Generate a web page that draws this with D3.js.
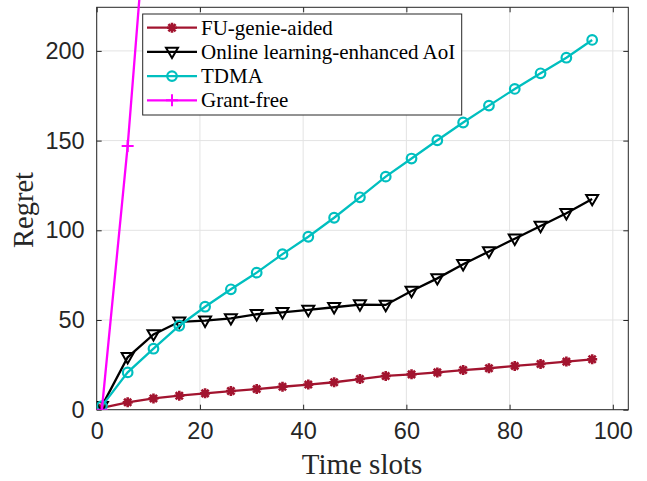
<!DOCTYPE html>
<html>
<head>
<meta charset="utf-8">
<script src="https://cdn.jsdelivr.net/npm/d3@7"></script>
<style>
  body { margin: 0; background: #fff; }
  svg { display: block; }
</style>
</head>
<body>
<svg width="647" height="481"></svg>
<script>
// data
const slots = [1, 6, 11, 16, 21, 26, 31, 36, 41, 46, 51, 56, 61, 66, 71, 76, 81, 86, 91, 96];
const fuGenie = [1, 4.1, 6.3, 7.8, 9.1, 10.4, 11.5, 12.8, 14, 15.3, 17.1, 18.8, 19.7, 20.8, 22.1, 23.1, 24.4, 25.5, 26.8, 28.1];
const onlineAoI = [2, 29.2, 42, 49, 49.6, 50.9, 53.2, 54.3, 55.6, 57.1, 58.6, 58.4, 66.2, 73.2, 81.1, 88.2, 95.3, 102.4, 109.5, 117.4];
const tdma = [2, 20.8, 34, 46.8, 57.4, 67.1, 76.4, 86.7, 96.4, 107, 118.4, 129.9, 140, 150.2, 160.1, 169.5, 178.8, 187.5, 196.2, 206.1];
const grantSlots = [1, 6, 11];
const grantFree = [0, 147, 328];
const xTicks = [0, 20, 40, 60, 80, 100];
const yTicks = [0, 50, 100, 150, 200];
const seriesNames = ['FU-genie-aided', 'Online learning-enhanced AoI', 'TDMA', 'Grant-free'];

(function () {
  const svg = d3.select('svg');
  const left = 96.7, right = 628.3, top = 7.3, bottom = 409.7;

  const x = d3.scaleLinear().domain([0, 103]).range([left, right]);
  const y = d3.scaleLinear().domain([0, 224.3]).range([bottom, top]);

  const axisColor = '#262626';
  const tickFont = '"Liberation Sans", Arial, sans-serif';
  const serif = '"Liberation Serif", "Times New Roman", serif';

  // grid
  const grid = svg.append('g');
  grid.selectAll('.gx').data(xTicks).enter().append('line')
    .attr('x1', d => x(d)).attr('x2', d => x(d))
    .attr('y1', top).attr('y2', bottom)
    .attr('stroke', '#e3e3e3').attr('stroke-width', 1);
  grid.selectAll('.gy').data(yTicks).enter().append('line')
    .attr('x1', left).attr('x2', right)
    .attr('y1', d => y(d)).attr('y2', d => y(d))
    .attr('stroke', '#e3e3e3').attr('stroke-width', 1);

  // axes, ticks pointing inward on all four sides
  const styleAxis = function (g) {
    g.select('.domain').remove();
    g.selectAll('.tick line').attr('stroke', axisColor);
    g.selectAll('.tick text')
      .attr('fill', axisColor)
      .style('font-family', tickFont)
      .style('font-size', '23.5px');
  };
  svg.append('g').attr('transform', `translate(0,${bottom})`)
    .call(d3.axisBottom(x).tickValues(xTicks).tickSizeInner(-5).tickSizeOuter(0).tickPadding(13))
    .call(styleAxis);
  svg.append('g').attr('transform', `translate(0,${top})`)
    .call(d3.axisTop(x).tickValues(xTicks).tickSizeInner(-5).tickSizeOuter(0).tickFormat(''))
    .call(styleAxis);
  svg.append('g').attr('transform', `translate(${left},0)`)
    .call(d3.axisLeft(y).tickValues(yTicks).tickSizeInner(-5).tickSizeOuter(0).tickPadding(12))
    .call(styleAxis);
  svg.append('g').attr('transform', `translate(${right},0)`)
    .call(d3.axisRight(y).tickValues(yTicks).tickSizeInner(-5).tickSizeOuter(0).tickFormat(''))
    .call(styleAxis);

  svg.append('rect')
    .attr('x', left).attr('y', top)
    .attr('width', right - left).attr('height', bottom - top)
    .attr('fill', 'none').attr('stroke', axisColor).attr('stroke-width', 1);

  // axis labels
  svg.append('text')
    .attr('x', 362).attr('y', 474)
    .attr('text-anchor', 'middle')
    .style('font-family', serif).style('font-size', '29px')
    .attr('fill', axisColor)
    .text('Time slots');
  svg.append('text')
    .attr('transform', 'translate(33,210) rotate(-90)')
    .attr('text-anchor', 'middle')
    .style('font-family', serif).style('font-size', '28.5px')
    .attr('fill', axisColor)
    .text('Regret');

  // marker shapes
  const markers = {
    star: 'M-5,0H5M0,-5V5M-3.6,-3.6L3.6,3.6M-3.6,3.6L3.6,-3.6',
    tri: 'M-6,-4.2L6,-4.2L0,6.2Z',
    circ: 'M4.8,0A4.8,4.8 0 1,1 -4.8,0A4.8,4.8 0 1,1 4.8,0Z',
    plus: 'M-6,0H6M0,-6V6'
  };

  const series = [
    {name: seriesNames[0], xs: slots, ys: fuGenie, color: '#A2142F', marker: 'star', mw: 2.6},
    {name: seriesNames[1], xs: slots, ys: onlineAoI, color: '#000000', marker: 'tri', mw: 2},
    {name: seriesNames[2], xs: slots, ys: tdma, color: '#00BFBF', marker: 'circ', mw: 2.2},
    {name: seriesNames[3], xs: grantSlots, ys: grantFree, color: '#FF00FF', marker: 'plus', mw: 2}
  ];

  svg.append('clipPath').attr('id', 'plot')
    .append('rect').attr('x', left).attr('y', 0)
    .attr('width', right - left).attr('height', bottom);

  const line = d3.line().x(d => x(d[0])).y(d => y(d[1]));
  const plot = svg.append('g').attr('clip-path', 'url(#plot)');

  series.forEach(s => {
    const pts = s.xs.map((v, i) => [v, s.ys[i]]);
    const g = plot.append('g');
    g.append('path')
      .attr('d', line(pts))
      .attr('fill', 'none')
      .attr('stroke', s.color)
      .attr('stroke-width', 2.3);
    g.selectAll('path.m').data(pts).enter().append('path')
      .attr('class', 'm')
      .attr('transform', d => `translate(${x(d[0])},${y(d[1])})`)
      .attr('d', markers[s.marker])
      .attr('fill', 'none')
      .attr('stroke', s.color)
      .attr('stroke-width', s.mw);
  });

  // legend
  const lg = svg.append('g');
  lg.append('rect')
    .attr('x', 142.7).attr('y', 14)
    .attr('width', 319).attr('height', 101)
    .attr('fill', '#fff').attr('stroke', axisColor).attr('stroke-width', 1);
  series.forEach((s, i) => {
    const cy = 27.7 + i * 24.2;
    lg.append('line')
      .attr('x1', 147).attr('x2', 197)
      .attr('y1', cy).attr('y2', cy)
      .attr('stroke', s.color).attr('stroke-width', 2.3);
    lg.append('path')
      .attr('transform', `translate(172,${cy})`)
      .attr('d', markers[s.marker])
      .attr('fill', 'none')
      .attr('stroke', s.color)
      .attr('stroke-width', s.mw);
    lg.append('text')
      .attr('x', 201).attr('y', cy + 7)
      .style('font-family', serif).style('font-size', '21px')
      .attr('fill', '#000')
      .text(s.name);
  });
})();
</script>
</body>
</html>
